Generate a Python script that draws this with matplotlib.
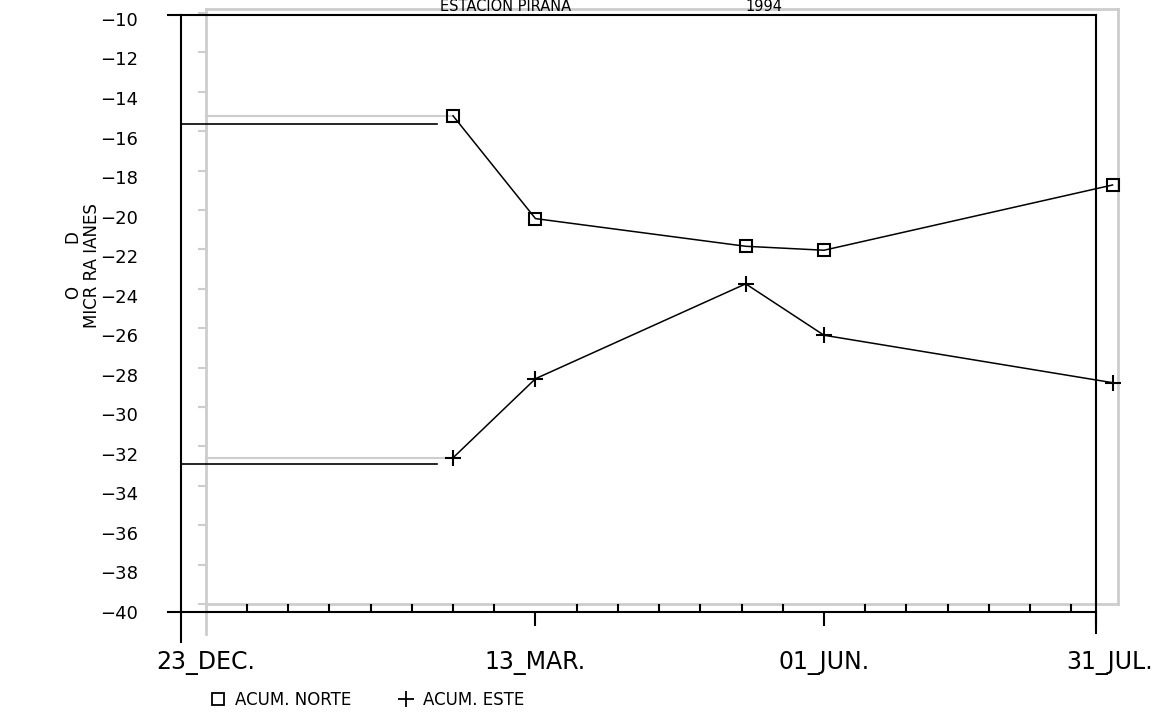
import numpy as np
import matplotlib
matplotlib.use('Agg')
import matplotlib.pyplot as plt
from matplotlib.lines import Line2D
from matplotlib.transforms import ScaledTranslation

# dias contados desde el 23 de diciembre
dias = [60, 80, 131, 150, 220]
norte = [-14.9, -20.1, -21.5, -21.7, -18.4]   # acumulado norte
este = [-32.2, -28.2, -23.4, -26.0, -28.4]    # acumulado este

# nivel de partida de cada serie (tramo horizontal inicial)
dias_inicio = [-6, 56]
norte_inicio = [-15.3, -15.3]
este_inicio = [-32.5, -32.5]

tick_dias = [0, 80, 150, 216]
tick_fechas = ['23_DEC.', '13_MAR.', '01_JUN.', '31_JUL.']
y_ticks = np.arange(-40, -9, 2)

GRIS = '#cdcdcd'

fig = plt.figure(figsize=(11.7, 7.21), dpi=100)

# marco desplazado de la copia (gris claro, detras)
gx = fig.add_axes([0.1761, 0.1623, 0.7795, 0.8252], zorder=0)
gx.set_xlim(-6, 216)
gx.set_ylim(-40, -9.8)
for s in gx.spines.values():
    s.set_color(GRIS)
    s.set_linewidth(2)
gx.set_xticks([])
gx.set_yticks(y_ticks)
gx.tick_params(axis='y', direction='out', length=6, width=1.5, color=GRIS,
               labelleft=False)
gx.plot([0, 0], [0, -0.05], transform=gx.transAxes, clip_on=False, color=GRIS, lw=2)

# ejes principales
ax = fig.add_axes([0.1547, 0.1512, 0.7821, 0.8280], zorder=1)
ax.patch.set_visible(False)
ax.set_xlim(-6, 216)
ax.set_ylim(-40, -9.8)
for s in ax.spines.values():
    s.set_linewidth(1.5)

ax.set_yticks(y_ticks)
ax.tick_params(axis='y', length=0, pad=31, labelsize=13)

ax.set_xticks(tick_dias, tick_fechas)
ax.set_xticks(np.arange(10, 216, 10), minor=True)
ax.tick_params(axis='x', which='major', direction='out', length=10, width=1.5,
               pad=18, labelsize=17)
ax.tick_params(axis='x', which='minor', direction='in', length=6, width=1.5)
ax.xaxis.get_major_ticks()[0].tick1line.set_visible(False)

# la etiqueta final queda un poco a la derecha del borde
lbl = ax.get_xticklabels()[-1]
lbl.set_transform(lbl.get_transform() + ScaledTranslation(0.14, 0, fig.dpi_scale_trans))

# prolongaciones del marco
ax.plot([0, 0], [0, -0.05], transform=ax.transAxes, clip_on=False, color='k', lw=1.5)
ax.plot([1, 1], [0, -0.035], transform=ax.transAxes, clip_on=False, color='k', lw=1.5)
ax.plot([-0.014, 0], [0, 0], transform=ax.transAxes, clip_on=False, color='k', lw=1.5)
ax.plot([-0.014, 0], [1, 1], transform=ax.transAxes, clip_on=False, color='k', lw=1.5)

# tramo inicial: copia desplazada en gris y trazo negro
ax.plot([0, dias[0]], [norte[0], norte[0]], color=GRIS, lw=1.5)
ax.plot([0, dias[0]], [este[0], este[0]], color=GRIS, lw=1.5)
ax.plot(dias_inicio, norte_inicio, color='k', lw=1.2, clip_on=False)
ax.plot(dias_inicio, este_inicio, color='k', lw=1.2, clip_on=False)

# series
ax.plot(dias, norte, color='k', lw=1.1, marker='s', ms=9, mfc='none', mew=1.5,
        clip_on=False)
ax.plot(dias, este, color='k', lw=1.1, marker='+', ms=12, mew=1.5, clip_on=False)

# titulo en la franja superior
fig.text(0.376, 0.9845, 'ESTACION PIRANA', fontsize=10.5, ha='left', va='baseline')
fig.text(0.637, 0.9845, '1994', fontsize=10.5, ha='left', va='baseline')

# rotulo del eje y
fig.text(0.071, 0.632, 'O        D\nMICR RA IANES', rotation=90, fontsize=12,
         ha='center', va='center', multialignment='center', linespacing=1.0)

# leyenda
handles = [
    Line2D([], [], ls='none', marker='s', mfc='none', mec='k', ms=8, mew=1.3),
    Line2D([], [], ls='none', marker='+', color='k', ms=11, mew=1.3),
]
fig.legend(handles, ['ACUM. NORTE', 'ACUM. ESTE'], loc='center left',
           bbox_to_anchor=(0.1795, 0.029), ncol=2, frameon=False, fontsize=12,
           handlelength=1, handletextpad=0.5, columnspacing=2.8,
           borderpad=0, borderaxespad=0)

fig.savefig('out.png', dpi=100)
